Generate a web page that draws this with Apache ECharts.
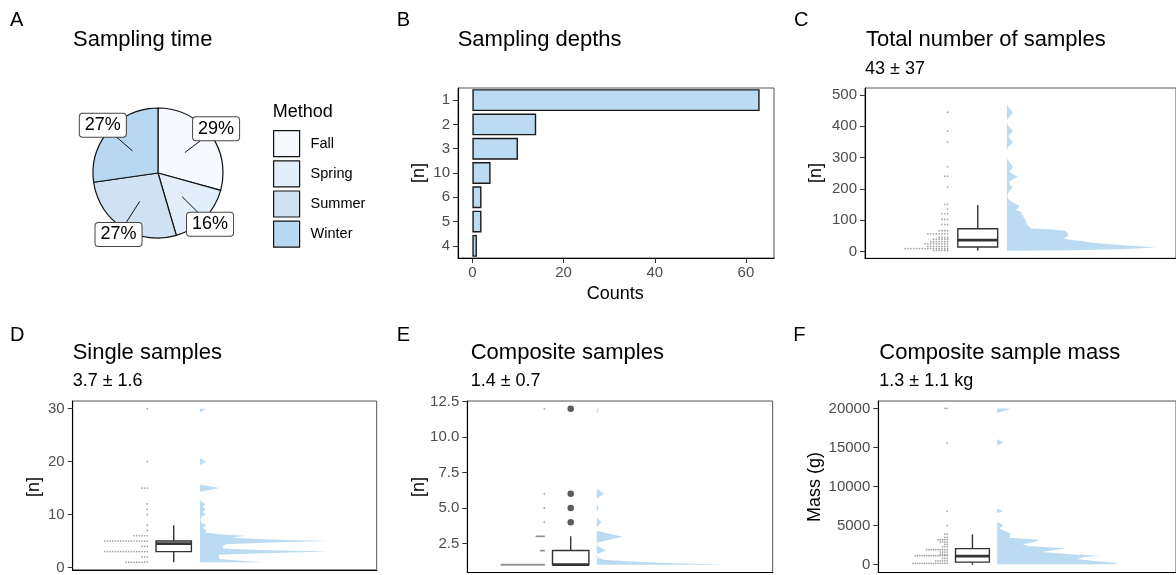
<!DOCTYPE html>
<html><head><meta charset="utf-8">
<script src="https://cdn.jsdelivr.net/npm/echarts@6/dist/echarts.min.js"></script>
<style>html,body{margin:0;padding:0;background:#fff}#c{width:1176px;height:575px}</style>
</head><body><div id="c"></div>
<script>
// ---------------- DATA ----------------
const seasons = ['Fall', 'Spring', 'Summer', 'Winter'];
const seasonPct = [29, 16, 27, 27];

const depthCats = ['1', '2', '3', '10', '6', '5', '4'];
const depthCounts = [63, 14, 10, 4, 2, 2, 1];
const depthTicks = [0, 20, 40, 60];

// C: total number of samples
const totalDotValues = [4, 10, 17, 25, 32, 40, 46, 57, 67, 87, 103, 121, 136, 151, 207, 241, 271, 350, 385, 445];
const totalDotCounts = [6, 16, 8, 9, 7, 6, 4, 8, 4, 3, 3, 3, 1, 2, 1, 2, 1, 1, 1, 1];
const totalBox = [3, 15, 37, 73, 149]; // lower whisker, Q1, median, Q3, upper whisker
const totalDensity = [[3, 0.05], [5, 0.45], [8, 0.75], [11, 0.9], [14, 1.0], [17, 0.92], [21, 0.78], [25, 0.65], [30, 0.55], [34, 0.5], [38, 0.42], [43, 0.38], [47, 0.4], [52, 0.41], [57, 0.41], [62, 0.4], [67, 0.39], [71, 0.3], [75, 0.16], [80, 0.15], [88, 0.13], [96, 0.13], [104, 0.12], [112, 0.11], [120, 0.1], [127, 0.1], [133, 0.06], [140, 0.08], [147, 0.08], [152, 0.06], [158, 0.04], [163, 0.02], [168, 0.01], [175, 0.003], [185, 0.005], [195, 0.02], [205, 0.04], [213, 0.02], [222, 0.015], [231, 0.04], [239, 0.075], [247, 0.04], [255, 0.015], [262, 0.03], [270, 0.04], [280, 0.026], [290, 0.01], [298, 0], [325, 0], [335, 0.01], [343, 0.03], [351, 0.04], [359, 0.02], [368, 0.01], [376, 0.025], [385, 0.04], [393, 0.025], [402, 0.008], [410, 0], [420, 0], [432, 0.02], [444, 0.04], [456, 0.02], [466, 0.005], [471, 0]];
const totalTicks = [0, 100, 200, 300, 400, 500];

// D: single samples
const singleDotValues = [1, 2, 3, 4, 5, 6, 7, 8, 10, 11, 12, 15, 20, 30];
const singleDotCounts = [9, 3, 17, 3, 17, 6, 1, 1, 1, 1, 1, 3, 1, 1];
const singleBox = [1, 3, 4.5, 5, 8];
const singleDensity = [[1.0, 0.49], [1.3, 0.3], [1.6, 0.15], [2.0, 0.15], [2.4, 0.14], [2.7, 0.5], [3.0, 1.0], [3.3, 0.45], [3.6, 0.18], [4.0, 0.18], [4.4, 0.2], [4.7, 0.55], [5.0, 1.0], [5.3, 0.55], [5.6, 0.25], [6.0, 0.35], [6.3, 0.15], [6.6, 0.04], [7.0, 0.05], [7.5, 0.02], [8.0, 0.05], [8.5, 0.01], [9.0, 0.005], [9.5, 0.01], [10, 0.045], [10.5, 0.02], [11, 0.045], [11.5, 0.02], [12, 0.045], [12.5, 0.005], [13, 0], [14.3, 0], [15, 0.15], [15.7, 0], [19.3, 0], [20, 0.047], [20.7, 0], [29.3, 0], [30, 0.047]];
const singleTicks = [0, 10, 20, 30];

// E: composite samples
const compDotValues = [1, 2, 3, 4, 5, 6, 12];
const compDotCounts = [60, 6, 12, 1, 1, 1, 1];
const compBox = [1, 1, 1, 2, 3];
const compOutliers = [4, 5, 6, 12];
const compDensity = [[1.0, 1.0], [1.1, 0.6], [1.2, 0.3], [1.35, 0.05], [1.5, 0.005], [1.75, 0], [2.0, 0.072], [2.35, 0], [2.55, 0], [2.97, 0.2], [3.4, 0], [3.65, 0], [4.0, 0.035], [4.35, 0], [4.7, 0], [5.0, 0.015], [5.3, 0], [5.65, 0], [6.0, 0.057], [6.35, 0], [11.6, 0], [12.0, 0.015]];
const compTicks = [2.5, 5.0, 7.5, 10.0, 12.5];

// F: composite sample mass (g)
const massDotValues = [170, 500, 800, 1150, 1320, 1620, 1920, 2300, 2600, 2900, 3200, 3500, 3900, 5000, 6830, 15600, 20000];
const massDotCounts = [16, 6, 3, 15, 4, 4, 10, 3, 2, 4, 5, 2, 2, 1, 1, 1, 2];
const massBox = [0, 330, 1100, 2050, 3880];
const massDensity = [[40, 0.95], [210, 1.0], [460, 0.8], [720, 0.66], [980, 0.72], [1150, 0.85], [1320, 0.6], [1620, 0.37], [1830, 0.45], [2090, 0.57], [2390, 0.25], [2600, 0.21], [2900, 0.3], [3200, 0.35], [3460, 0.1], [3970, 0.11], [4270, 0.07], [4615, 0.02], [4800, 0.03], [5000, 0.05], [5250, 0.03], [5500, 0], [6600, 0], [6850, 0.05], [7150, 0], [15200, 0], [15600, 0.05], [16100, 0], [19400, 0], [19800, 0.08], [20000, 0.107]];
const massTicks = [0, 5000, 10000, 15000, 20000];

// ---------------- STYLE / LAYOUT ----------------
const FONT = '"Liberation Sans", Arial, sans-serif';
const seasonColors = ['#F6FAFE', '#E2EEF9', '#CEE2F4', '#B8D7F0'];
const BLUE = '#BBDBF3';
const DOT = '#8a8a8a';
const BORDER = '#555';

const rain = [
  { key: 'C', grid: { left: 865, top: 88, width: 320, height: 170.3 }, min: -21, max: 522, ticks: totalTicks, fmt: v => String(v),
    dotEnd: 85, step: 2.9, dotSize: 1.7, box: 116, half: 20.5, base: 146, dw: 153.3,
    vals: totalDotValues, cnts: totalDotCounts, stats: totalBox, dens: totalDensity, out: [] },
  { key: 'D', grid: { left: 72.7, top: 401, width: 304, height: 171.5 }, min: -0.45, max: 31.45, ticks: singleTicks, fmt: v => String(v),
    dotEnd: 74.6, step: 2.65, dotSize: 1.7, box: 101, half: 17.7, base: 127.3, dw: 128.3,
    vals: singleDotValues, cnts: singleDotCounts, stats: singleBox, dens: singleDensity, out: [] },
  { key: 'E', grid: { left: 467.3, top: 401, width: 305.4, height: 171.5 }, min: 0.45, max: 12.55, ticks: compTicks, fmt: v => v.toFixed(1),
    dotEnd: 77, step: 0.73, dotSize: 1.8, box: 103.4, half: 18.2, base: 129.4, dw: 130,
    vals: compDotValues, cnts: compDotCounts, stats: compBox, dens: compDensity, out: compOutliers },
  { key: 'F', grid: { left: 878.3, top: 401, width: 320, height: 171.5 }, min: -1000, max: 20950, ticks: massTicks, fmt: v => String(v),
    dotEnd: 74, step: 2.45, dotSize: 1.7, box: 101.2, half: 18.2, base: 127.7, dw: 130.7,
    vals: massDotValues, cnts: massDotCounts, stats: massBox, dens: massDensity, out: [] }
];

const grids = [{ left: 458, top: 88, width: 316, height: 170, show: true, borderColor: BORDER, borderWidth: 1 }];
const xAxes = [{
  type: 'value', gridIndex: 0, min: -3.15, max: 66.15,
  axisLine: { show: true, onZero: false, lineStyle: { color: '#000', width: 1.1 } },
  axisTick: { show: true, length: 5, lineStyle: { color: '#333' }, customValues: depthTicks },
  axisLabel: { customValues: depthTicks, color: '#4d4d4d', fontSize: 15, margin: 7, fontFamily: FONT },
  splitLine: { show: false }
}];
const yAxes = [{
  type: 'category', gridIndex: 0, data: depthCats, inverse: true,
  axisLine: { show: true, onZero: false, lineStyle: { color: '#000', width: 1.1 } },
  axisTick: { show: true, length: 5, alignWithLabel: true, lineStyle: { color: '#333' } },
  axisLabel: { color: '#4d4d4d', fontSize: 15, margin: 8, fontFamily: FONT },
  splitLine: { show: false }
}];

const series = [];

// Pie (A)
const pieCenter = [158, 173];
const pieTotal = seasonPct.reduce((a, b) => a + b, 0);
series.push({
  type: 'pie', center: pieCenter, radius: 65, silent: true, z: 1,
  data: seasons.map((s, i) => ({ name: s, value: seasonPct[i], itemStyle: { color: seasonColors[i] } })),
  label: { show: false }, labelLine: { show: false },
  itemStyle: { borderColor: '#111', borderWidth: 1.2 },
  emphasis: { disabled: true }, animation: false
});
// leader lines, drawn in a hidden polar system sharing the pie's centre and angular scale
series.push({
  type: 'custom', coordinateSystem: 'polar', polarIndex: 0, silent: true, z: 2, animation: false,
  data: seasonPct.map(v => [v]),
  renderItem(params, api) {
    const i = params.dataIndex;
    let cum = 0;
    for (let k = 0; k < i; k++) cum += seasonPct[k];
    const mid = cum + api.value(0) / 2;
    const p1 = api.coord([0.52, mid]);
    const p2 = api.coord([1.0, mid]);
    return { type: 'line', shape: { x1: p1[0], y1: p1[1], x2: p2[0], y2: p2[1] }, style: { stroke: '#111', lineWidth: 1 } };
  }
});
series.push({
  type: 'pie', center: pieCenter, radius: [0, 140], silent: true, z: 3, avoidLabelOverlap: false,
  data: seasons.map((s, i) => ({ name: s, value: seasonPct[i] })),
  itemStyle: { color: 'rgba(0,0,0,0)', borderWidth: 0 },
  label: { show: true, position: 'inside', formatter: '{c}%', fontSize: 18, color: '#000', fontFamily: FONT,
    backgroundColor: '#fff', borderColor: '#444', borderWidth: 1, borderRadius: 3, padding: [3, 5, 2, 5] },
  labelLine: { show: false },
  emphasis: { disabled: true }, animation: false
});

// Bars (B)
series.push({
  type: 'bar', xAxisIndex: 0, yAxisIndex: 0, data: depthCounts, barWidth: '90%',
  itemStyle: { color: BLUE, borderColor: '#1a1a1a', borderWidth: 1.4 }, silent: true, animation: false
});

rain.forEach((L, idx) => {
  const gi = idx + 1;
  grids.push(Object.assign({ show: true, borderColor: BORDER, borderWidth: 1 }, L.grid));
  xAxes.push({
    type: 'value', gridIndex: gi, min: 0, max: L.grid.width,
    axisLine: { show: true, onZero: false, lineStyle: { color: '#000', width: 1.1 } },
    axisTick: { show: false }, axisLabel: { show: false }, splitLine: { show: false }
  });
  yAxes.push({
    type: 'value', gridIndex: gi, min: L.min, max: L.max,
    axisLine: { show: true, onZero: false, lineStyle: { color: '#000', width: 1.1 } },
    axisTick: { show: true, length: 5, lineStyle: { color: '#333' }, customValues: L.ticks },
    axisLabel: { customValues: L.ticks, color: '#4d4d4d', fontSize: 15, margin: 8, fontFamily: FONT, formatter: L.fmt },
    splitLine: { show: false }
  });
  // density (half-eye)
  series.push({
    type: 'custom', xAxisIndex: gi, yAxisIndex: gi, silent: true, z: 2, animation: false,
    data: L.dens,
    renderItem(params, api) {
      if (params.dataIndex !== 0) return;
      const d = L.dens;
      const pts = [api.coord([L.base, d[0][0]])];
      d.forEach(p => pts.push(api.coord([L.base + p[1] * L.dw, p[0]])));
      pts.push(api.coord([L.base, d[d.length - 1][0]]));
      return { type: 'polygon', shape: { points: pts }, style: { fill: BLUE, stroke: null } };
    }
  });
  // dots
  const dots = [];
  L.vals.forEach((v, i) => { for (let k = 0; k < L.cnts[i]; k++) dots.push([L.dotEnd - k * L.step, v]); });
  series.push({
    type: 'scatter', xAxisIndex: gi, yAxisIndex: gi, data: dots, symbol: 'circle', symbolSize: L.dotSize,
    itemStyle: { color: DOT }, silent: true, z: 2, animation: false
  });
  // box
  series.push({
    type: 'custom', xAxisIndex: gi, yAxisIndex: gi, silent: true, z: 3, animation: false,
    data: [L.stats],
    renderItem(params, api) {
      const lo = api.value(0), q1 = api.value(1), md = api.value(2), q3 = api.value(3), hi = api.value(4);
      const cx = L.box, hw = L.half;
      const tl = api.coord([cx - hw, q3]), br = api.coord([cx + hw, q1]);
      const pHi = api.coord([cx, hi]), pQ3 = api.coord([cx, q3]), pQ1 = api.coord([cx, q1]), pLo = api.coord([cx, lo]);
      const ml = api.coord([cx - hw, md]), mr = api.coord([cx + hw, md]);
      const st = { stroke: '#333', lineWidth: 1.4, fill: null };
      return { type: 'group', children: [
        { type: 'line', shape: { x1: pHi[0], y1: pHi[1], x2: pQ3[0], y2: pQ3[1] }, style: st },
        { type: 'line', shape: { x1: pQ1[0], y1: pQ1[1], x2: pLo[0], y2: pLo[1] }, style: st },
        { type: 'rect', shape: { x: tl[0], y: tl[1], width: br[0] - tl[0], height: br[1] - tl[1] }, style: { stroke: '#333', lineWidth: 1.4, fill: '#fff' } },
        { type: 'line', shape: { x1: ml[0], y1: ml[1], x2: mr[0], y2: mr[1] }, style: { stroke: '#333', lineWidth: 2.8 } }
      ] };
    }
  });
  if (L.out.length) {
    series.push({
      type: 'scatter', xAxisIndex: gi, yAxisIndex: gi, data: L.out.map(v => [L.box, v]), symbol: 'circle', symbolSize: 6.5,
      itemStyle: { color: '#333' }, silent: true, z: 4, animation: false
    });
  }
});

function txt(x, y, text, size, extra) {
  return Object.assign({ type: 'text', x, y, silent: true, style: { text, fontSize: size, fontFamily: FONT, fill: '#000', align: 'left', verticalAlign: 'middle' } }, extra || {});
}
function vtxt(x, y, text) {
  return { type: 'text', x, y, rotation: Math.PI / 2, silent: true, style: { text, fontSize: 18, fontFamily: FONT, fill: '#000', align: 'center', verticalAlign: 'middle' } };
}

const graphics = [
  txt(10, 20.5, 'A', 20), txt(396.7, 20, 'B', 20), txt(794, 20, 'C', 20),
  txt(10, 335.5, 'D', 20), txt(396.7, 335.5, 'E', 20), txt(793.3, 335.5, 'F', 20),
  txt(73, 39.5, 'Sampling time', 22), txt(457.7, 40, 'Sampling depths', 22), txt(866, 40, 'Total number of samples', 22),
  txt(865, 68.8, '43 ± 37', 18),
  txt(72.7, 352.5, 'Single samples', 22), txt(72.7, 381.3, '3.7 ± 1.6', 18),
  txt(470.7, 352.5, 'Composite samples', 22), txt(470.7, 381.3, '1.4 ± 0.7', 18),
  txt(879.3, 352.5, 'Composite sample mass', 22), txt(879.3, 381.3, '1.3 ± 1.1 kg', 18),
  txt(272.7, 112, 'Method', 18),
  { type: 'text', x: 615.3, y: 294, silent: true, style: { text: 'Counts', fontSize: 18, fontFamily: FONT, fill: '#000', align: 'center', verticalAlign: 'middle' } },
  vtxt(418.7, 173, '[n]'), vtxt(816.5, 173, '[n]'), vtxt(34.5, 487, '[n]'), vtxt(418.7, 487, '[n]'), vtxt(815, 487, 'Mass (g)')
];

const chart = echarts.init(document.getElementById('c'), null, { renderer: 'canvas' });
chart.setOption({
  animation: false,
  backgroundColor: '#fff',
  textStyle: { fontFamily: FONT },
  polar: { center: pieCenter, radius: 65 },
  angleAxis: { type: 'value', polarIndex: 0, min: 0, max: pieTotal, startAngle: 90, clockwise: true, show: false },
  radiusAxis: { type: 'value', polarIndex: 0, min: 0, max: 1, show: false },
  grid: grids, xAxis: xAxes, yAxis: yAxes,
  legend: {
    orient: 'vertical', left: 273, top: 130, padding: 0,
    data: seasons, icon: 'rect', itemWidth: 26, itemHeight: 26, itemGap: 3,
    itemStyle: { borderColor: '#111', borderWidth: 1.2 },
    textStyle: { fontSize: 14.5, color: '#000', fontFamily: FONT, padding: [0, 0, 0, 6] },
    selectedMode: false
  },
  series,
  graphic: graphics
});
</script>
</body></html>
